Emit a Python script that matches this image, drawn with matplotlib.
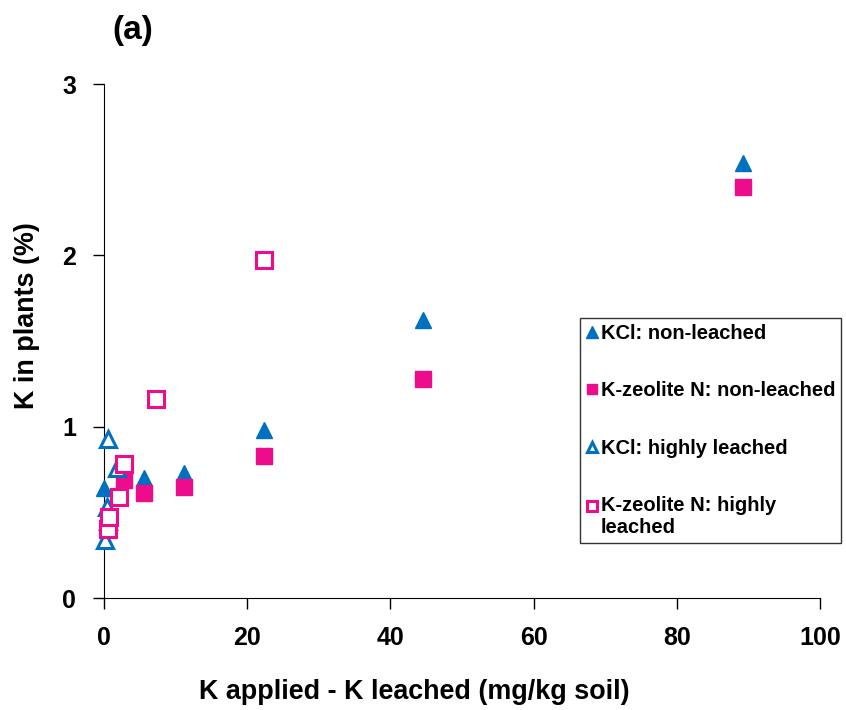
import matplotlib.pyplot as plt

plt.rcParams['font.family'] = ['Liberation Sans', 'DejaVu Sans']
plt.rcParams['font.weight'] = 'bold'

# datos
kcl_nl_x = [0, 2.8, 5.6, 11.2, 22.3, 44.6, 89.3]
kcl_nl_y = [0.64, 0.72, 0.70, 0.73, 0.98, 1.62, 2.54]

zeo_nl_x = [0.5, 2.8, 5.6, 11.2, 22.3, 44.6, 89.3]
zeo_nl_y = [0.42, 0.69, 0.61, 0.65, 0.83, 1.28, 2.40]

kcl_hl_x = [0.2, 0.4, 0.6, 0.6, 1.8]
kcl_hl_y = [0.34, 0.53, 0.45, 0.93, 0.76]

zeo_hl_x = [0.5, 0.7, 2.1, 2.8, 7.2, 22.3]
zeo_hl_y = [0.40, 0.47, 0.59, 0.78, 1.16, 1.97]

blue = '#0070C0'
pink = '#EC0C8C'

fig = plt.figure(figsize=(8.46, 7.10), dpi=100)
ax = fig.add_axes([104 / 846, 1 - 598 / 710, 716 / 846, 514 / 710])

ax.plot(kcl_nl_x, kcl_nl_y, '^', color=blue, ms=12, mec=blue, label='KCl: non-leached', clip_on=False, zorder=3)
ax.plot(zeo_nl_x, zeo_nl_y, 's', color=pink, ms=11, mec=pink, label='K-zeolite N: non-leached', clip_on=False, zorder=3)
ax.plot(kcl_hl_x, kcl_hl_y, '^', mfc='white', mec=blue, mew=2.2, ms=11, label='KCl: highly leached', clip_on=False, zorder=4)
ax.plot(zeo_hl_x, zeo_hl_y, 's', mfc='white', mec=pink, mew=2.2, ms=11, label='K-zeolite N: highly\nleached', clip_on=False, zorder=5)

ax.set_xlim(0, 100)
ax.set_ylim(0, 3)
ax.set_xticks([0, 20, 40, 60, 80, 100])
ax.set_yticks([0, 1, 2, 3])
ax.spines['top'].set_visible(False)
ax.spines['right'].set_visible(False)
ax.tick_params(direction='out', length=8, width=1, labelsize=18, pad=12)

# las etiquetas no estan centradas en el eje en el original
ax.set_xlabel('K applied - K leached (mg/kg soil)', fontsize=19.4, fontweight='bold', va='center')
ax.xaxis.set_label_coords((414 - 104) / 716, (598 - 692) / 514)
ax.set_ylabel('K in plants (%)', fontsize=19.4, fontweight='bold', va='center')
ax.yaxis.set_label_coords((27 - 104) / 716, (598 - 316) / 514)

fig.text(112 / 846, 1 - 30 / 710, '(a)', fontsize=24, fontweight='bold', va='center')

leg = fig.legend(loc='upper left', bbox_to_anchor=(580 / 846, 1 - 318 / 710),
                 fontsize=14.5, frameon=True, fancybox=False, edgecolor='black',
                 handlelength=0.6, handletextpad=0.12, labelspacing=1.9,
                 markerscale=0.7, borderpad=0.3, borderaxespad=0)
leg.get_frame().set_linewidth(1)

# el ultimo marcador va alineado con la primera linea del texto
h = leg.legend_handles[3]
h.set_ydata([y + 8 for y in h.get_ydata()])

fig.savefig('out.png', dpi=100)
